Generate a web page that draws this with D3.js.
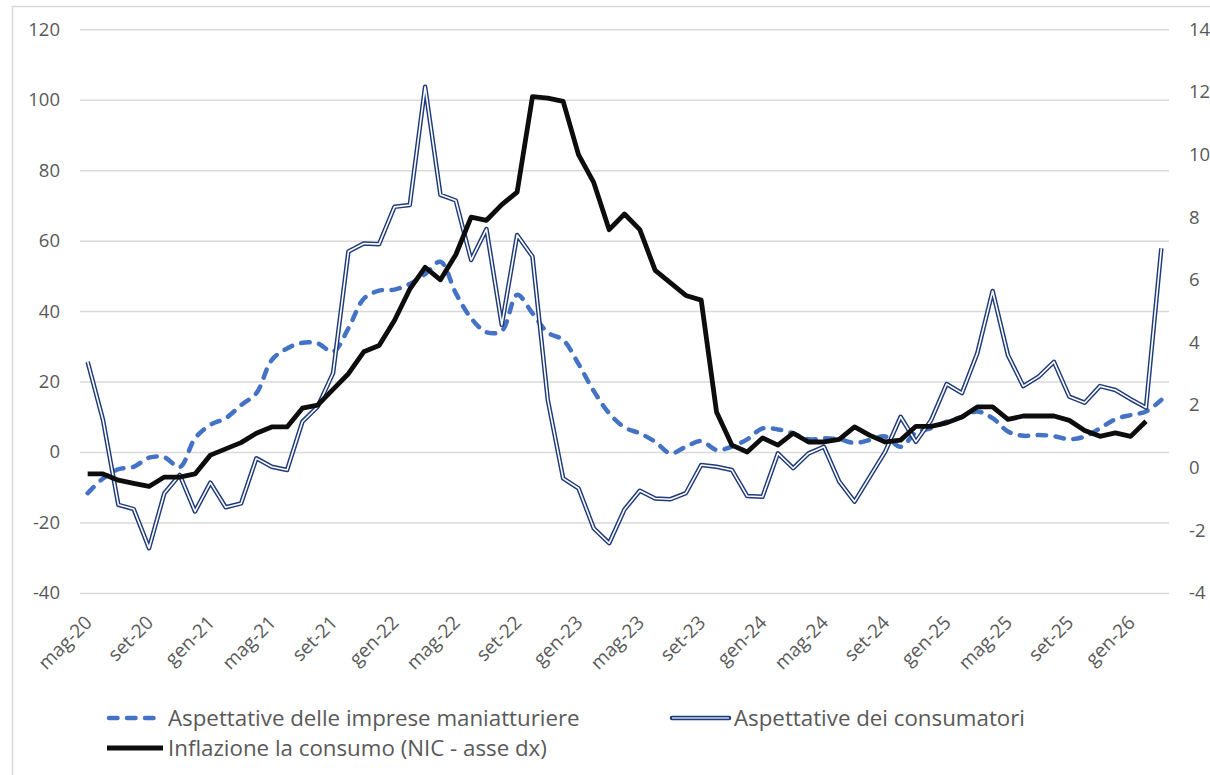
<!DOCTYPE html>
<html>
<head>
<meta charset="utf-8">
<script src="https://cdn.jsdelivr.net/npm/d3@7/dist/d3.min.js"></script>
<style>
  html, body { margin: 0; padding: 0; background: #fff; }
  svg { display: block; }
  .tick text { font-family: "Open Sans", "Noto Sans", sans-serif; fill: #595959; }
</style>
</head>
<body>
<svg id="chart" width="1210" height="775"></svg>
<script>
// Monthly categories, May 2020 - March 2026
const months = [
  "mag-20","giu-20","lug-20","ago-20","set-20","ott-20","nov-20","dic-20",
  "gen-21","feb-21","mar-21","apr-21","mag-21","giu-21","lug-21","ago-21","set-21","ott-21","nov-21","dic-21",
  "gen-22","feb-22","mar-22","apr-22","mag-22","giu-22","lug-22","ago-22","set-22","ott-22","nov-22","dic-22",
  "gen-23","feb-23","mar-23","apr-23","mag-23","giu-23","lug-23","ago-23","set-23","ott-23","nov-23","dic-23",
  "gen-24","feb-24","mar-24","apr-24","mag-24","giu-24","lug-24","ago-24","set-24","ott-24","nov-24","dic-24",
  "gen-25","feb-25","mar-25","apr-25","mag-25","giu-25","lug-25","ago-25","set-25","ott-25","nov-25","dic-25",
  "gen-26","feb-26","mar-26"
];

// Price expectations of manufacturing firms (balance, left axis)
const manufacturers = [
  -11.7, -7.5, -4.9, -4.2, -1.6, -1.5, -4.3, 3.9, 7.7, 9.6,
  13.3, 16.7, 26.1, 29.4, 31.0, 30.8, 28.5, 35.1, 43.5, 45.8,
  46.1, 47.7, 50.5, 54.0, 45.1, 38.0, 34.0, 34.4, 44.6, 39.4,
  33.9, 31.8, 25.0, 17.3, 11.0, 7.0, 5.3, 2.9, -0.4, 1.5,
  3.1, 0.6, 1.5, 3.6, 6.7, 6.4, 5.3, 3.6, 3.9, 3.6,
  2.6, 3.4, 4.4, 1.5, 5.5, 6.8, 8.6, 10.0, 11.5, 9.6,
  5.8, 4.6, 4.8, 4.5, 3.6, 4.4, 6.7, 9.3, 10.5, 11.5,
  14.8
];

// Price expectations of consumers (balance, left axis)
const consumers = [
  25.6, 9.1, -15.0, -16.2, -27.3, -11.7, -6.5, -16.9, -8.7, -15.7,
  -14.6, -1.8, -4.2, -5.1, 8.6, 12.9, 22.4, 56.9, 59.2, 59.0,
  69.6, 70.1, 103.7, 73.0, 71.4, 54.5, 63.3, 36.1, 61.6, 55.5,
  14.8, -7.5, -10.3, -21.7, -25.9, -16.3, -11.0, -13.2, -13.4, -11.7,
  -3.7, -4.2, -5.1, -12.5, -12.7, -0.4, -4.6, -0.4, 1.5, -8.4,
  -14.1, -7.0, 0.1, 10.0, 2.9, 9.1, 19.3, 16.7, 28.0, 45.7,
  27.5, 18.7, 21.4, 25.6, 15.7, 14.0, 18.7, 17.6, 15.0, 12.6,
  57.8
];

// Consumer price inflation, NIC index, % y/y (right axis)
const inflation = [
  -0.2, -0.2, -0.4, -0.5, -0.6, -0.3, -0.3, -0.2, 0.4, 0.6,
  0.8, 1.1, 1.3, 1.3, 1.9, 2.0, 2.5, 3.0, 3.7, 3.9,
  4.7, 5.7, 6.4, 6.0, 6.8, 8.0, 7.9, 8.4, 8.8, 11.85,
  11.8, 11.7, 10.0, 9.1, 7.6, 8.1, 7.6, 6.3, 5.9, 5.5,
  5.35, 1.78, 0.72, 0.5, 0.95, 0.72, 1.1, 0.82, 0.82, 0.9,
  1.3, 1.03, 0.82, 0.88, 1.32, 1.32, 1.43, 1.62, 1.94, 1.94,
  1.54, 1.65, 1.65, 1.65, 1.51, 1.19, 1.0, 1.11, 1.0, 1.48,
  null
];

const leftTicks = [-40, -20, 0, 20, 40, 60, 80, 100, 120];
const rightTicks = [-4, -2, 0, 2, 4, 6, 8, 10, 12, 14];
const xTickLabels = ["mag-20","set-20","gen-21","mag-21","set-21","gen-22","mag-22","set-22","gen-23",
  "mag-23","set-23","gen-24","mag-24","set-24","gen-25","mag-25","set-25","gen-26"];

const seriesNames = {
  manufacturers: "Aspettative delle imprese maniatturiere",
  consumers: "Aspettative dei consumatori",
  inflation: "Inflazione la consumo (NIC - asse dx)"
};

const svg = d3.select("#chart");
const plot = { left: 80, right: 1169, top: 29.3, bottom: 592.9 };

const x = d3.scalePoint().domain(months).range([plot.left, plot.right]).padding(0.5);
const yL = d3.scaleLinear().domain([-40, 120]).range([plot.bottom, plot.top]);
const yR = d3.scaleLinear().domain([-4, 14]).range([plot.bottom, plot.top]);

// plain hyphen-minus for negative tick values
const plainNumber = d => String(d);

// outer chart frame
svg.append("rect")
  .attr("x", 12.5).attr("y", 6.5).attr("width", 1215).attr("height", 790)
  .attr("fill", "none").attr("stroke", "#d9d9d9").attr("stroke-width", 1.5);

// horizontal gridlines
svg.append("g")
  .attr("transform", `translate(${plot.left},0)`)
  .call(d3.axisLeft(yL).tickValues(leftTicks).tickSize(-(plot.right - plot.left)).tickFormat(""))
  .call(g => g.select(".domain").remove())
  .call(g => g.selectAll(".tick line").attr("stroke", "#d9d9d9").attr("stroke-width", 1.5));

// left axis labels
svg.append("g")
  .attr("transform", `translate(${plot.left},0)`)
  .call(d3.axisLeft(yL).tickValues(leftTicks).tickSize(0).tickPadding(20).tickFormat(plainNumber))
  .call(g => g.select(".domain").remove())
  .call(g => g.selectAll(".tick text").attr("font-size", 18.5));

// right axis labels
svg.append("g")
  .attr("transform", `translate(${plot.right},0)`)
  .call(d3.axisRight(yR).tickValues(rightTicks).tickSize(0).tickPadding(20).tickFormat(plainNumber))
  .call(g => g.select(".domain").remove())
  .call(g => g.selectAll(".tick text").attr("font-size", 18.5));

// category axis with rotated labels
svg.append("g")
  .attr("transform", `translate(0,${plot.bottom})`)
  .call(d3.axisBottom(x).tickValues(xTickLabels).tickSize(0))
  .call(g => g.select(".domain").remove())
  .call(g => g.selectAll(".tick text")
    .attr("font-size", 19)
    .attr("x", 0).attr("y", 0).attr("dy", 0)
    .attr("text-anchor", "end")
    .attr("transform", "translate(5,31) rotate(-45)"));

const lineL = d3.line()
  .defined(d => d.v != null)
  .x(d => x(d.m)).y(d => yL(d.v));
const lineR = d3.line()
  .defined(d => d.v != null)
  .x(d => x(d.m)).y(d => yR(d.v));

const pts = arr => arr.map((v, i) => ({ m: months[i], v }));

// manufacturers: smoothed dashed line
svg.append("path")
  .datum(pts(manufacturers))
  .attr("d", lineL.curve(d3.curveCatmullRom.alpha(0.5)))
  .attr("fill", "none")
  .attr("stroke", "#4472c4")
  .attr("stroke-width", 4.5)
  .attr("stroke-dasharray", "8.5,9.5")
  .attr("stroke-linecap", "round")
  .attr("stroke-linejoin", "round");

// consumers: double line
const consLine = d3.line().defined(d => d.v != null).x(d => x(d.m)).y(d => yL(d.v)).curve(d3.curveLinear);
svg.append("path")
  .datum(pts(consumers))
  .attr("d", consLine)
  .attr("fill", "none")
  .attr("stroke", "#1f3a78")
  .attr("stroke-width", 4.5)
  .attr("stroke-linejoin", "round");
svg.append("path")
  .datum(pts(consumers))
  .attr("d", consLine)
  .attr("fill", "none")
  .attr("stroke", "#ffffff")
  .attr("stroke-width", 1.6)
  .attr("stroke-linejoin", "round");

// inflation: solid black line on secondary axis
svg.append("path")
  .datum(pts(inflation))
  .attr("d", lineR.curve(d3.curveLinear))
  .attr("fill", "none")
  .attr("stroke", "#0d0d0d")
  .attr("stroke-width", 4.8)
  .attr("stroke-linejoin", "round");

// legend
const legend = svg.append("g")
  .attr("font-family", "'Open Sans', 'Noto Sans', sans-serif")
  .attr("font-size", 22.3)
  .attr("fill", "#595959");

function legendText(xPos, yPos, label) {
  legend.append("text").attr("x", xPos).attr("y", yPos).attr("dy", "0.35em").text(label);
}

legend.append("line")
  .attr("x1", 109).attr("x2", 160).attr("y1", 718).attr("y2", 718)
  .attr("stroke", "#4472c4").attr("stroke-width", 4.5)
  .attr("stroke-dasharray", "8.5,9.5").attr("stroke-linecap", "round");
legendText(168, 718, seriesNames.manufacturers);

legend.append("line")
  .attr("x1", 672).attr("x2", 729).attr("y1", 718).attr("y2", 718)
  .attr("stroke", "#1f3a78").attr("stroke-width", 4.5).attr("stroke-linecap", "round");
legend.append("line")
  .attr("x1", 672).attr("x2", 729).attr("y1", 718).attr("y2", 718)
  .attr("stroke", "#c9d3e6").attr("stroke-width", 1.6);
legendText(734, 718, seriesNames.consumers);

legend.append("line")
  .attr("x1", 107).attr("x2", 163).attr("y1", 748).attr("y2", 748)
  .attr("stroke", "#0d0d0d").attr("stroke-width", 4.8);
legendText(168, 748, seriesNames.inflation);
</script>
</body>
</html>
